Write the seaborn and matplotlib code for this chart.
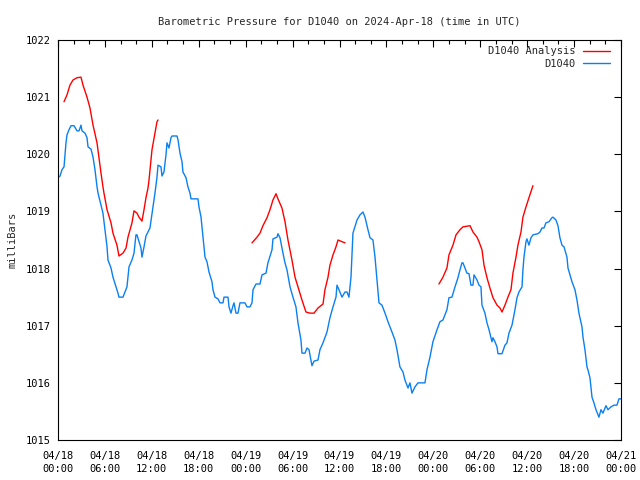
import pandas as pd
import numpy as np
import matplotlib
matplotlib.use('Agg')
import matplotlib.pyplot as plt
from matplotlib.ticker import MultipleLocator
import seaborn as sns

# D1040 observations: hours since 04/18 00:00 UTC, pressure in mbar
obs_hours = [0.0, 0.26, 0.51, 0.77, 1.02, 1.15, 1.41, 1.66, 2.05, 2.43, 2.69, 2.94, 3.07, 3.45, 3.71,
             3.84, 4.22, 4.48, 4.73, 4.99, 5.12, 5.50, 5.75, 6.01, 6.27, 6.39, 6.78, 7.03, 7.42, 7.67,
             7.80, 8.31, 8.57, 8.82, 9.08, 9.46, 9.72, 9.97, 10.10, 10.36, 10.61, 10.74, 11.00, 11.25,
             11.51, 11.76, 12.15, 12.40, 12.66, 12.79, 13.17, 13.30, 13.55, 13.81, 13.94, 14.19, 14.45,
             14.58, 15.22, 15.35, 15.60, 15.86, 15.98, 16.37, 16.62, 16.88, 17.01, 17.90, 18.03, 18.29,
             18.54, 18.80, 19.05, 19.31, 19.69, 19.82, 20.08, 20.46, 20.72, 21.10, 21.23, 21.74, 21.87,
             22.12, 22.38, 22.51, 22.76, 23.02, 23.27, 23.91, 24.17, 24.55, 24.81, 24.94, 25.32, 25.83,
             26.09, 26.60, 26.85, 27.37, 27.49, 28.01, 28.13, 28.39, 28.77, 29.03, 29.28, 29.67, 30.05,
             30.43, 30.69, 31.07, 31.20, 31.59, 31.84, 32.10, 32.35, 32.48, 32.74, 33.25, 33.50, 33.89,
             34.40, 34.78, 35.17, 35.55, 35.68, 35.93, 36.32, 36.70, 36.96, 37.21, 37.47, 37.72, 38.24,
             38.62, 39.00, 39.26, 39.64, 39.90, 40.28, 40.54, 40.79, 41.05, 41.43, 41.82, 42.20, 42.71,
             43.09, 43.35, 43.73, 44.12, 44.37, 44.63, 44.76, 45.01, 45.27, 45.65, 46.04, 46.93, 47.19,
             47.57, 47.95, 48.47, 48.85, 49.23, 49.74, 50.00, 50.38, 50.77, 51.15, 51.41, 51.66, 51.79,
             52.05, 52.30, 52.56, 52.81, 53.07, 53.20, 53.58, 53.84, 54.09, 54.22, 54.60, 54.86, 55.12,
             55.50, 55.63, 55.88, 56.14, 56.27, 56.78, 57.16, 57.42, 57.67, 58.06, 58.44, 58.70, 58.95,
             59.34, 59.46, 59.59, 59.85, 59.97, 60.23, 60.49, 60.74, 61.38, 61.64, 61.89, 62.15, 62.40,
             62.79, 63.17, 63.30, 63.68, 63.94, 64.19, 64.45, 64.71, 65.09, 65.22, 65.47, 65.73, 66.11,
             66.37, 66.62, 67.01, 67.14, 67.39, 67.65, 67.77, 68.03, 68.29, 68.54, 68.80, 69.18, 69.44,
             69.69, 70.08, 70.33, 70.72, 71.10, 71.48, 71.74, 72.0]
obs_mbar = [1019.59, 1019.62, 1019.73, 1019.78, 1020.20, 1020.34, 1020.43, 1020.50, 1020.50, 1020.41,
            1020.41, 1020.51, 1020.41, 1020.37, 1020.29, 1020.13, 1020.09, 1019.95, 1019.73, 1019.43,
            1019.32, 1019.11, 1018.97, 1018.68, 1018.38, 1018.15, 1018.01, 1017.85, 1017.68, 1017.57,
            1017.50, 1017.50, 1017.59, 1017.68, 1018.03, 1018.15, 1018.27, 1018.59, 1018.59, 1018.47,
            1018.36, 1018.20, 1018.38, 1018.57, 1018.64, 1018.71, 1019.08, 1019.32, 1019.60, 1019.81,
            1019.78, 1019.62, 1019.69, 1019.99, 1020.20, 1020.11, 1020.29, 1020.32, 1020.32, 1020.25,
            1020.02, 1019.87, 1019.69, 1019.59, 1019.43, 1019.32, 1019.22, 1019.22, 1019.08, 1018.90,
            1018.55, 1018.20, 1018.12, 1017.94, 1017.77, 1017.63, 1017.50, 1017.47, 1017.40, 1017.40,
            1017.50, 1017.50, 1017.33, 1017.22, 1017.35, 1017.40, 1017.22, 1017.22, 1017.40, 1017.40,
            1017.33, 1017.33, 1017.40, 1017.63, 1017.73, 1017.73, 1017.89, 1017.92, 1018.10, 1018.33,
            1018.52, 1018.55, 1018.61, 1018.54, 1018.27, 1018.10, 1017.98, 1017.68, 1017.50, 1017.33,
            1017.05, 1016.75, 1016.52, 1016.52, 1016.61, 1016.58, 1016.40, 1016.30, 1016.38, 1016.40,
            1016.58, 1016.70, 1016.89, 1017.14, 1017.33, 1017.50, 1017.71, 1017.63, 1017.50, 1017.59,
            1017.59, 1017.50, 1017.85, 1018.62, 1018.85, 1018.94, 1018.99, 1018.90, 1018.68, 1018.54,
            1018.50, 1018.20, 1017.80, 1017.40, 1017.36, 1017.22, 1017.07, 1016.89, 1016.75, 1016.58,
            1016.28, 1016.19, 1016.05, 1015.96, 1015.91, 1016.00, 1015.82, 1015.93, 1016.00, 1016.00,
            1016.23, 1016.45, 1016.72, 1016.93, 1017.07, 1017.10, 1017.28, 1017.49, 1017.50, 1017.68,
            1017.84, 1017.98, 1018.10, 1018.10, 1018.01, 1017.92, 1017.91, 1017.71, 1017.71, 1017.89,
            1017.80, 1017.71, 1017.68, 1017.36, 1017.22, 1017.05, 1016.93, 1016.72, 1016.79, 1016.72,
            1016.63, 1016.51, 1016.51, 1016.66, 1016.70, 1016.87, 1017.01, 1017.28, 1017.49, 1017.59,
            1017.68, 1017.98, 1018.20, 1018.47, 1018.52, 1018.41, 1018.54, 1018.59, 1018.61, 1018.64,
            1018.71, 1018.71, 1018.80, 1018.82, 1018.89, 1018.90, 1018.85, 1018.75, 1018.54, 1018.41,
            1018.38, 1018.20, 1018.01, 1017.89, 1017.77, 1017.63, 1017.45, 1017.22, 1016.98, 1016.80,
            1016.58, 1016.28, 1016.23, 1016.09, 1015.75, 1015.65, 1015.53, 1015.40, 1015.53, 1015.47,
            1015.60, 1015.53, 1015.58, 1015.61, 1015.61, 1015.72, 1015.72]

# D1040 Analysis, three separate runs
ana1_hours = [0.77, 1.15, 1.53, 1.92, 2.43, 2.94, 3.20, 3.71, 4.09, 4.48, 4.99, 5.24, 5.50, 5.75, 5.88,
              6.27, 6.78, 7.03, 7.54, 7.80, 8.31, 8.70, 8.95, 9.46, 9.72, 10.10, 10.36, 10.74, 11.00,
              11.25, 11.51, 11.64, 12.02, 12.66, 12.79]
ana1_mbar = [1020.92, 1021.04, 1021.21, 1021.30, 1021.34, 1021.35, 1021.21, 1021.00, 1020.81, 1020.51,
             1020.20, 1019.94, 1019.67, 1019.43, 1019.32, 1019.03, 1018.80, 1018.62, 1018.41, 1018.22,
             1018.27, 1018.36, 1018.55, 1018.80, 1019.01, 1018.97, 1018.90, 1018.83, 1019.03, 1019.24,
             1019.41, 1019.55, 1020.08, 1020.57, 1020.60]
ana2_hours = [24.81, 25.45, 25.83, 26.21, 26.73, 27.11, 27.49, 27.88, 28.13, 28.64, 29.03, 29.41, 29.92,
              30.31, 30.69, 31.20, 31.71, 32.23, 32.74, 33.25, 33.89, 34.14, 34.53, 34.78, 35.17, 35.55,
              35.81, 36.32, 36.70]
ana2_mbar = [1018.45, 1018.55, 1018.62, 1018.75, 1018.89, 1019.03, 1019.20, 1019.31, 1019.22, 1019.06,
             1018.82, 1018.50, 1018.15, 1017.85, 1017.68, 1017.45, 1017.24, 1017.22, 1017.22, 1017.31,
             1017.38, 1017.63, 1017.85, 1018.06, 1018.24, 1018.38, 1018.50, 1018.47, 1018.45]
ana3_hours = [48.72, 49.23, 49.74, 50.00, 50.51, 50.90, 51.41, 51.79, 52.69, 53.07, 53.58, 53.84, 54.22,
              54.48, 54.86, 55.24, 55.63, 56.14, 56.52, 56.78, 57.16, 57.54, 57.93, 58.18, 58.57, 58.82,
              59.21, 59.46, 59.85, 60.23, 60.74]
ana3_mbar = [1017.73, 1017.85, 1018.01, 1018.24, 1018.41, 1018.59, 1018.68, 1018.73, 1018.75, 1018.64,
             1018.55, 1018.47, 1018.33, 1018.06, 1017.84, 1017.66, 1017.49, 1017.36, 1017.31, 1017.24,
             1017.36, 1017.50, 1017.63, 1017.92, 1018.20, 1018.41, 1018.64, 1018.90, 1019.08, 1019.24,
             1019.45]

tick_hours = [0, 6, 12, 18, 24, 30, 36, 42, 48, 54, 60, 66, 72]
tick_labels = ['04/18\n00:00', '04/18\n06:00', '04/18\n12:00', '04/18\n18:00',
               '04/19\n00:00', '04/19\n06:00', '04/19\n12:00', '04/19\n18:00',
               '04/20\n00:00', '04/20\n06:00', '04/20\n12:00', '04/20\n18:00',
               '04/21\n00:00']

frames = [pd.DataFrame({'hour': ana1_hours, 'mbar': ana1_mbar, 'series': 'D1040 Analysis', 'run': 'a1'}),
          pd.DataFrame({'hour': ana2_hours, 'mbar': ana2_mbar, 'series': 'D1040 Analysis', 'run': 'a2'}),
          pd.DataFrame({'hour': ana3_hours, 'mbar': ana3_mbar, 'series': 'D1040 Analysis', 'run': 'a3'}),
          pd.DataFrame({'hour': obs_hours, 'mbar': obs_mbar, 'series': 'D1040', 'run': 'obs'})]
df = pd.concat(frames, ignore_index=True)

sns.set_theme(style='white')
plt.rcParams['font.family'] = ['DejaVu Sans Mono']

fig = plt.figure(figsize=(6.4, 4.8), dpi=100)
ax = fig.add_axes([58/640, 40/480, 563/640, 400/480])

palette = {'D1040 Analysis': '#ff0000', 'D1040': '#0a80f0'}
sns.lineplot(data=df, x='hour', y='mbar', hue='series', units='run', estimator=None,
             palette=palette, hue_order=['D1040 Analysis', 'D1040'], linewidth=1.0, ax=ax,
             sort=False)

ax.set_xlim(0, 72)
ax.set_ylim(1015, 1022)
ax.set_xticks(tick_hours)
ax.set_xticklabels(tick_labels, linespacing=1.35)
ax.xaxis.set_minor_locator(MultipleLocator(2))
ax.yaxis.set_major_locator(MultipleLocator(1))
ax.tick_params(which='both', direction='in', top=True, right=True, color='black', labelsize=7.5,
               labelcolor='black')
ax.tick_params(axis='x', pad=8)
ax.tick_params(axis='y', pad=5)
ax.tick_params(which='major', length=5, width=0.8)
ax.tick_params(which='minor', length=3, width=0.8)
for s in ax.spines.values():
    s.set_color('black')
    s.set_linewidth(0.8)
ax.set_xlabel('')
ax.set_ylabel('milliBars', fontsize=7.5, labelpad=6)
ax.set_title('Barometric Pressure for D1040 on 2024-Apr-18 (time in UTC)', fontsize=7.5, pad=11)

handles, labels = ax.get_legend_handles_labels()
ax.legend(handles, labels, loc='upper right', bbox_to_anchor=(0.991, 1.0), borderaxespad=0.2,
          frameon=False, markerfirst=False, fontsize=7.5, handlelength=2.6, labelspacing=0.25,
          handletextpad=0.7)

plt.savefig('out.png', dpi=100)
